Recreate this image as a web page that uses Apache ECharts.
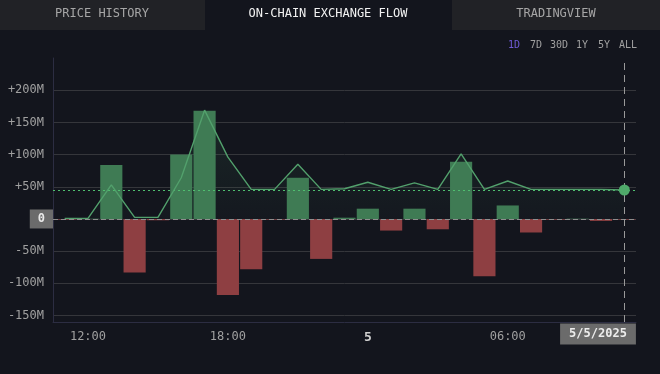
<!DOCTYPE html>
<html><head><meta charset="utf-8">
<script src="https://cdn.jsdelivr.net/npm/echarts@6/dist/echarts.min.js"></script>
<style>html,body{margin:0;padding:0;background:#13151d;overflow:hidden}#c{width:660px;height:374px;}</style>
</head><body><div id="c"></div>
<script>
// ---- data ----
const times = [
  '05-04 11:00','05-04 12:00','05-04 13:00','05-04 14:00','05-04 15:00','05-04 16:00','05-04 17:00',
  '05-04 18:00','05-04 19:00','05-04 20:00','05-04 21:00','05-04 22:00','05-04 23:00',
  '05-05 00:00','05-05 01:00','05-05 02:00','05-05 03:00','05-05 04:00','05-05 05:00',
  '05-05 06:00','05-05 07:00','05-05 08:00','05-05 09:00','05-05 10:00','05-05 11:00'
];
// net exchange flow per hour (USD)
const flowValues = [
  -1e6, 0.5e6, 84e6, -83e6, -2e6, 100e6, 168e6, -118e6, -78e6, -1e6, 64e6, -62e6, 2e6,
  16e6, -18e6, 16e6, -16e6, 89e6, -89e6, 21e6, -21e6, -1e6, 0.5e6, -3e6, -1e6
];
// flow activity line (USD)
const lineValues = [
  1e6, 1e6, 53e6, 2.5e6, 2.5e6, 64e6, 169e6, 96e6, 46e6, 46e6, 85e6, 46e6, 47e6,
  57e6, 46e6, 56e6, 46e6, 101e6, 46e6, 59e6, 46e6, 46e6, 46e6, 46e6, 45e6
];
const averageValue = 45e6;
const xTickLabels = ['12:00', '18:00', '00:00', '06:00'];
const dayLabel = '5';
const crosshairDate = '5/5/2025';
const tabs = ['PRICE HISTORY', 'ON-CHAIN EXCHANGE FLOW', 'TRADINGVIEW'];
const ranges = ['1D', '7D', '30D', '1Y', '5Y', 'ALL'];

// ---- chart ----
const FONT = '"DejaVu Sans Mono", "Liberation Mono", monospace';
const GREEN = '#3f7b54', RED = '#8e3f42', LINE = '#52a06c';
const chart = echarts.init(document.getElementById('c'), null, {renderer: 'canvas'});

const rangeX = [514, 536, 559, 582, 604, 628];
const graphic = [
  {type: 'rect', shape: {x: 0, y: 0, width: 205, height: 30}, style: {fill: '#212226'}, silent: true},
  {type: 'rect', shape: {x: 452, y: 0, width: 208, height: 30}, style: {fill: '#212226'}, silent: true},
  {type: 'text', x: 102, y: 14, style: {text: tabs[0], fill: '#a6a6a6', font: '12px ' + FONT, textAlign: 'center', textVerticalAlign: 'middle'}},
  {type: 'text', x: 328, y: 14, style: {text: tabs[1], fill: '#f2f2f2', font: '12px ' + FONT, textAlign: 'center', textVerticalAlign: 'middle'}},
  {type: 'text', x: 556, y: 14, style: {text: tabs[2], fill: '#a6a6a6', font: '12px ' + FONT, textAlign: 'center', textVerticalAlign: 'middle'}},
  {type: 'text', x: 598, y: 334, z: 100, style: {text: crosshairDate, fill: '#ececec', font: 'bold 12px ' + FONT,
    textAlign: 'center', textVerticalAlign: 'middle', backgroundColor: '#6b6b6b', padding: [5, 9, 4, 9]}}
];
ranges.forEach((r, i) => graphic.push({type: 'text', x: rangeX[i], y: 45,
  style: {text: r, fill: i === 0 ? '#6f5bd6' : '#a0a0a0', font: '10px ' + FONT, textAlign: 'center', textVerticalAlign: 'middle'}}));

const option = {
  backgroundColor: '#13151d',
  animation: false,
  textStyle: {fontFamily: FONT},
  graphic: graphic,
  grid: {left: 53, right: 24, top: 58, bottom: 52},
  xAxis: {
    type: 'category', data: times, boundaryGap: true,
    axisLine: {show: true, onZero: false, lineStyle: {color: '#2c2d42', width: 1}},
    axisTick: {show: false},
    splitLine: {show: false},
    axisLabel: {
      color: '#a0a0a0', fontSize: 12, fontFamily: FONT, margin: 9,
      interval: (idx, val) => xTickLabels.indexOf(val.slice(6)) >= 0 && idx < times.length - 1,
      formatter: (val) => val.slice(6) === '00:00' ? '{b|' + dayLabel + '}' : val.slice(6),
      rich: {b: {fontWeight: 'bold', color: '#cfcfcf', fontSize: 13, fontFamily: FONT}}
    }
  },
  yAxis: {
    type: 'value', min: -160e6, max: 250e6, splitNumber: 8, minInterval: 50e6, maxInterval: 50e6,
    axisLine: {show: true, lineStyle: {color: '#2c2d42', width: 1}},
    axisTick: {show: false},
    splitLine: {show: true, showMinLine: false, showMaxLine: false, lineStyle: {color: '#35363b', width: 1}},
    axisLabel: {
      color: '#a0a0a0', fontSize: 12, fontFamily: FONT, margin: 9,
      showMinLabel: false, showMaxLabel: false,
      formatter: (v) => v === 0 ? '' : (v > 0 ? '+' : '') + Math.round(v / 1e6) + 'M'
    }
  },
  series: [
    {
      name: 'area', type: 'line', data: lineValues, z: 1, silent: true,
      symbol: 'none', lineStyle: {width: 0, opacity: 0},
      areaStyle: {color: new echarts.graphic.LinearGradient(0, 0, 0, 1, [
        {offset: 0, color: 'rgba(70,150,95,0.22)'},
        {offset: 1, color: 'rgba(60,120,90,0.05)'}
      ])}
    },
    {
      name: 'flow', type: 'bar', data: flowValues, z: 2, barCategoryGap: '5%',
      itemStyle: {color: (p) => p.value >= 0 ? GREEN : RED},
      markLine: {
        silent: true, symbol: 'none', z: 5,
        data: [
          {yAxis: 0, lineStyle: {color: '#8e8e8e', type: [5, 3], width: 1},
            label: {show: true, position: 'start', distance: 0, formatter: '0',
              backgroundColor: '#6b6b6b', color: '#e8e8e8', fontWeight: 'bold', fontSize: 12,
              fontFamily: FONT, padding: [4, 8, 3, 8]}},
          {xAxis: times.length - 1, lineStyle: {color: '#9a9a9a', type: [7, 5], width: 1},
            label: {show: false}}
        ]
      }
    },
    {
      name: 'activity', type: 'line', data: lineValues, z: 6,
      lineStyle: {color: LINE, width: 1.4},
      itemStyle: {color: '#4faa6a'},
      showSymbol: true, symbol: 'circle',
      symbolSize: (v, p) => p.dataIndex === lineValues.length - 1 ? 11 : 0,
      markLine: {
        silent: true, symbol: 'none', z: 4,
        data: [{yAxis: averageValue}],
        lineStyle: {color: '#4fbf6f', type: [2, 3], width: 1},
        label: {show: false}
      }
    }
  ]
};
chart.setOption(option);
</script>
</body></html>
